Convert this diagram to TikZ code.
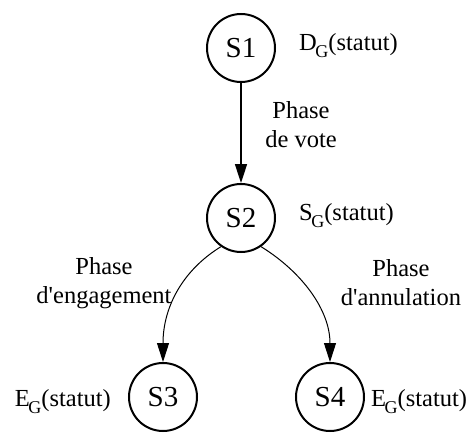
\documentclass[tikz,border=0pt]{standalone}
\usepackage{fontspec}
\setmainfont{Liberation Serif}
\usetikzlibrary{arrows.meta}
\newcommand{\subG}{\kern-1.5pt\raisebox{-7pt}{\fontsize{18}{18}\selectfont G}}
\begin{document}
\begin{tikzpicture}[x=1pt,y=-1pt,
  state/.style={circle,draw,line width=2pt,minimum size=68pt,inner sep=0pt,font=\fontsize{29}{29}\selectfont},
  lbl/.style={font=\fontsize{24.5}{29}\selectfont,align=center,inner sep=0pt},
  conn/.style={-{Triangle[length=19pt,width=12pt]},line width=1pt}]
\useasboundingbox (0,0) rectangle (467,434);
\node[state] (s1) at (241,48) {S1};
\node[state] (s2) at (241,218) {S2};
\node[state] (s3) at (163,397) {S3};
\node[state] (s4) at (330,397) {S4};
\node[lbl,anchor=west] (d1) at (299,46) {D\subG(statut)};
\node[lbl,anchor=west] (d2) at (299,216) {S\subG(statut)};
\node[lbl,anchor=east] (d3) at (111,402) {E\subG(statut)};
\node[lbl,anchor=west] (d4) at (371,402) {E\subG(statut)};
\node[lbl] (p1) at (301,125) {Phase\\de vote};
\node[lbl] (p2) at (104,283) {Phase\\d\textquotesingle engagement};
\node[lbl] (p3) at (401,283) {Phase\\d\textquotesingle annulation};
\draw[conn,line width=1.6pt] (s1) -- (s2);
\draw[conn] (s2.235) .. controls (180,272) and (163,310) .. (s3.north);
\draw[conn] (s2.-55) .. controls (302,272) and (330,310) .. (s4.north);
\end{tikzpicture}
\end{document}
